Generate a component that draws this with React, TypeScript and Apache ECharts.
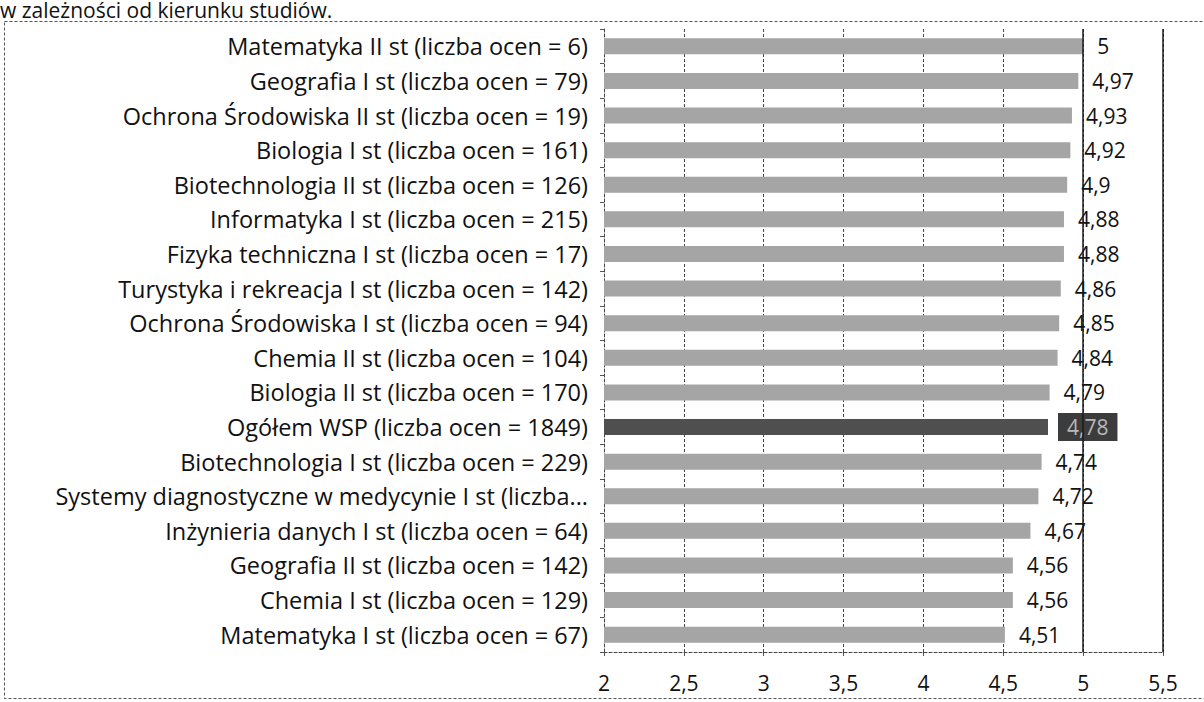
import React, { useEffect, useRef } from "react";
import * as echarts from "echarts";

const categories: string[] = [
  "Matematyka II st (liczba ocen = 6)",
  "Geografia I st (liczba ocen = 79)",
  "Ochrona Środowiska II st (liczba ocen = 19)",
  "Biologia I st (liczba ocen = 161)",
  "Biotechnologia II st (liczba ocen = 126)",
  "Informatyka I st (liczba ocen = 215)",
  "Fizyka techniczna I st (liczba ocen = 17)",
  "Turystyka i rekreacja I st (liczba ocen = 142)",
  "Ochrona Środowiska I st (liczba ocen = 94)",
  "Chemia II st (liczba ocen = 104)",
  "Biologia II st (liczba ocen = 170)",
  "Ogółem WSP (liczba ocen = 1849)",
  "Biotechnologia I st (liczba ocen = 229)",
  "Systemy diagnostyczne w medycynie I st (liczba...",
  "Inżynieria danych I st (liczba ocen = 64)",
  "Geografia II st (liczba ocen = 142)",
  "Chemia I st (liczba ocen = 129)",
  "Matematyka I st (liczba ocen = 67)",
];

const values: number[] = [
  5, 4.97, 4.93, 4.92, 4.9, 4.88, 4.88, 4.86, 4.85, 4.84, 4.79, 4.78, 4.74, 4.72,
  4.67, 4.56, 4.56, 4.51,
];

const highlightIndex = 11;
const titleText = "w zależności od kierunku studiów.";
const xMin = 2;
const xMax = 5.5;
const xStep = 0.5;
const solidLines: number[] = [5, 5.5];

const FONT = "Open Sans";
const fmt = (v: number) => String(v).replace(".", ",");

export default function App() {
  const ref = useRef<HTMLDivElement>(null);

  useEffect(() => {
    if (!ref.current) return;
    const chart = echarts.init(ref.current, null, { renderer: "svg" });

    const data = values.map((v, i) =>
      i === highlightIndex
        ? {
            value: v,
            itemStyle: { color: "#4f4f4f" },
            label: {
              backgroundColor: "#3c3c3c",
              color: "#b8b8b8",
              padding: [4, 9, 3, 9],
              distance: 10,
            },
          }
        : { value: v }
    );

    chart.setOption({
      animation: false,
      backgroundColor: "#ffffff",
      textStyle: { fontFamily: FONT },
      graphic: [
        {
          type: "rect",
          shape: { x: 4.5, y: 21.5, width: 1210, height: 677 },
          style: { fill: "none", stroke: "#555", lineWidth: 1, lineDash: [3, 2] },
          silent: true,
        },
        {
          type: "text",
          x: 0,
          y: -1,
          style: {
            text: titleText,
            font: `21px ${FONT}`,
            fill: "#111",
          },
          silent: true,
        },
      ],
      grid: { left: 604, right: 41, top: 29, bottom: 50, containLabel: false },
      xAxis: {
        type: "value",
        min: xMin,
        max: xMax,
        interval: xStep,
        axisLine: { show: true, lineStyle: { color: "#444", type: [3, 2], width: 1 } },
        axisTick: { show: true, length: 4, lineStyle: { color: "#555" } },
        axisLabel: {
          formatter: (v: number) => fmt(v),
          fontFamily: FONT,
          fontSize: 21,
          color: "#111",
          margin: 20,
        },
        splitLine: { show: true, lineStyle: { color: "#444", type: [3, 2], width: 1 } },
      },
      yAxis: {
        type: "category",
        inverse: true,
        data: categories,
        axisLine: { show: true, lineStyle: { color: "#444", type: [3, 2], width: 1 } },
        axisTick: { show: true, length: 4, lineStyle: { color: "#555" } },
        axisLabel: {
          fontFamily: FONT,
          fontSize: 23.5,
          color: "#111",
          margin: 16,
        },
      },
      series: [
        {
          type: "bar",
          data,
          barWidth: 16,
          itemStyle: { color: "#a5a5a5" },
          label: {
            show: true,
            position: "right",
            distance: 14,
            formatter: (p: any) => fmt(p.value),
            fontFamily: FONT,
            fontSize: 21,
            color: "#111",
          },
          markLine: {
            silent: true,
            symbol: ["none", "none"],
            label: { show: false },
            lineStyle: { color: "#1a1a1a", type: "solid", width: 1.5 },
            data: solidLines.map((x) => ({ xAxis: x })),
          },
        },
      ],
    });

    return () => chart.dispose();
  }, []);

  return (
    <div
      ref={ref}
      style={{ position: "fixed", left: 0, top: 0, width: 1204, height: 702 }}
    />
  );
}
